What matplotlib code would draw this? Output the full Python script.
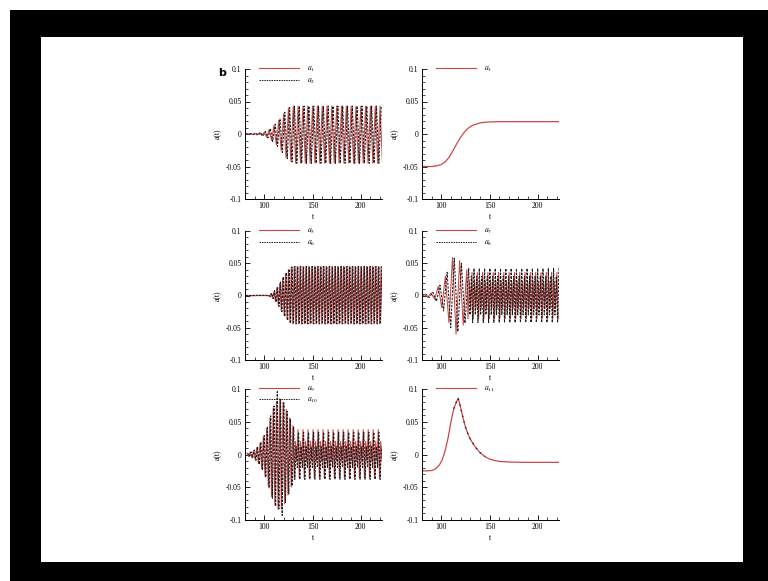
import numpy as np
import matplotlib
matplotlib.use('Agg')
import matplotlib.pyplot as plt
from matplotlib.patches import Rectangle
from matplotlib.lines import Line2D
from matplotlib.ticker import MultipleLocator

plt.rcParams['font.family'] = ['Liberation Serif', 'DejaVu Serif']
plt.rcParams['mathtext.fontset'] = 'stix'

# ---------------- data (extrema) ----------------
# panel 1 : a1 (solid), a2 (dashed); first extremum time and half period
A1_T0, A1_DT = 80.0, 2.5
a1_vals = [0.0008, -0.0008, 0.0008, -0.0008, 0.001, -0.0015, 0.002, -0.0025, 0.003, -0.005,
           0.007, -0.010, 0.013, -0.017, 0.021, -0.026, 0.031, -0.036, 0.040, -0.042,
           0.043,
           -0.045, 0.043, -0.045, 0.043, -0.045, 0.043, -0.045, 0.043, -0.045, 0.043, -0.045, 0.043,
           -0.045, 0.043, -0.045, 0.043, -0.045, 0.043, -0.045, 0.043, -0.045, 0.043, -0.045, 0.043,
           -0.045, 0.043, -0.045, 0.043, -0.045, 0.043, -0.045, 0.043, -0.045, 0.043, -0.045, 0.043,
           -0.045]
A2_T0, A2_DT = 81.25, 2.5
a2_vals = [0.0008, -0.0008, 0.0008, -0.001, 0.0012, -0.0018, 0.0022, -0.003, 0.004, -0.006,
           0.0085, -0.0115, 0.015, -0.019, 0.0235, -0.0285, 0.0335, -0.038, 0.041, -0.043,
           0.043,
           -0.045, 0.043, -0.045, 0.043, -0.045, 0.043, -0.045, 0.043, -0.045, 0.043, -0.045, 0.043,
           -0.045, 0.043, -0.045, 0.043, -0.045, 0.043, -0.045, 0.043, -0.045, 0.043, -0.045, 0.043,
           -0.045, 0.043, -0.045, 0.043, -0.045, 0.043, -0.045, 0.043, -0.045, 0.043, -0.045, 0.043]

# panel 2 : a3
a3_t = [80, 90, 95, 100, 104, 108, 112, 116, 120, 124, 128, 132, 136, 140, 145, 150, 160, 180, 200, 222]
a3_v = [-0.050, -0.050, -0.049, -0.047, -0.043, -0.036, -0.026, -0.015, -0.005, 0.003,
        0.009, 0.013, 0.015, 0.017, 0.018, 0.0185, 0.019, 0.019, 0.019, 0.019]

# panel 3 : a5, a6
A5_T0, A5_DT = 80.0, 1.5
a5_vals = [0.0005, -0.0005, 0.0005, -0.0005, 0.0005, -0.0005, 0.0005, -0.0005, 0.0005,
           -0.0005, 0.0005, -0.0005, 0.0005, -0.0005, 0.0005, -0.0005, 0.0005,
           -0.0015, 0.003, -0.0045, 0.006, -0.009, 0.012, -0.015, 0.019, -0.023, 0.027,
           -0.031, 0.034, -0.037, 0.040, -0.042, 0.044,
           -0.044, 0.045, -0.044, 0.045, -0.044, 0.045, -0.044, 0.045, -0.044, 0.045, -0.044, 0.045,
           -0.044, 0.045, -0.044, 0.045, -0.044, 0.045, -0.044, 0.045, -0.044, 0.045, -0.044, 0.045,
           -0.044, 0.045, -0.044, 0.045, -0.044, 0.045, -0.044, 0.045, -0.044, 0.045, -0.044, 0.045,
           -0.044, 0.045, -0.044, 0.045, -0.044, 0.045, -0.044, 0.045, -0.044, 0.045, -0.044, 0.045,
           -0.044, 0.045, -0.044, 0.045, -0.044, 0.045, -0.044, 0.045, -0.044, 0.045, -0.044, 0.045,
           -0.044, 0.045, -0.044]
A6_T0, A6_DT = 80.75, 1.5
a6_vals = [0.0005, -0.0005, 0.0005, -0.0005, 0.0005, -0.0005, 0.0005, -0.0005, 0.0005,
           -0.0005, 0.0005, -0.0005, 0.0005, -0.0005, 0.0005, -0.0005, 0.0005,
           -0.002, 0.0037, -0.005, 0.0075, -0.0105, 0.0135, -0.017, 0.021, -0.025, 0.029,
           -0.0325, 0.0355, -0.0385, 0.041, -0.043, 0.044,
           -0.044, 0.045, -0.044, 0.045, -0.044, 0.045, -0.044, 0.045, -0.044, 0.045, -0.044, 0.045,
           -0.044, 0.045, -0.044, 0.045, -0.044, 0.045, -0.044, 0.045, -0.044, 0.045, -0.044, 0.045,
           -0.044, 0.045, -0.044, 0.045, -0.044, 0.045, -0.044, 0.045, -0.044, 0.045, -0.044, 0.045,
           -0.044, 0.045, -0.044, 0.045, -0.044, 0.045, -0.044, 0.045, -0.044, 0.045, -0.044, 0.045,
           -0.044, 0.045, -0.044, 0.045, -0.044, 0.045, -0.044, 0.045, -0.044, 0.045, -0.044, 0.045,
           -0.044, 0.045]

# panel 4 : a7, a8 (transient extrema, then saturated regime)
a7_tr_t = [80.0, 82.0, 85.7, 89.4, 93.1, 96.8, 100.5, 104.2, 107.9, 111.6, 115.3, 119.0, 122.7, 126.4]
a7_tr_v = [0.0, 0.002, -0.003, 0.004, -0.006, 0.014, -0.019, 0.030, -0.042, 0.059, -0.060, 0.054, -0.046, 0.040]
A7_T0, A7_DT = 127.7, 1.375
a7_vals = [-0.036, 0.022, -0.020, 0.036, -0.036, 0.022, -0.020, 0.036, -0.036, 0.022, -0.020, 0.036,
           -0.036, 0.022, -0.020, 0.036, -0.036, 0.022, -0.020, 0.036, -0.036, 0.022, -0.020, 0.036,
           -0.036, 0.022, -0.020, 0.036, -0.036, 0.022, -0.020, 0.036, -0.036, 0.022, -0.020, 0.036,
           -0.036, 0.022, -0.020, 0.036, -0.036, 0.022, -0.020, 0.036, -0.036, 0.022, -0.020, 0.036,
           -0.036, 0.022, -0.020, 0.036, -0.036, 0.022, -0.020, 0.036, -0.036, 0.022, -0.020, 0.036,
           -0.036, 0.022, -0.020, 0.036, -0.036, 0.022, -0.020, 0.036, -0.036]
a8_tr_t = [80.0, 83.85, 87.55, 91.25, 94.95, 98.65, 102.35, 106.05, 109.75, 113.45, 117.15, 120.85, 124.55]
a8_tr_v = [0.0, 0.002, -0.003, 0.005, -0.009, 0.016, -0.024, 0.036, -0.050, 0.058, -0.056, 0.050, -0.043]
A8_T0, A8_DT = 128.4, 1.375
a8_vals = [0.042, -0.030, 0.030, -0.042, 0.042, -0.030, 0.030, -0.042, 0.042, -0.030, 0.030, -0.042,
           0.042, -0.030, 0.030, -0.042, 0.042, -0.030, 0.030, -0.042, 0.042, -0.030, 0.030, -0.042,
           0.042, -0.030, 0.030, -0.042, 0.042, -0.030, 0.030, -0.042, 0.042, -0.030, 0.030, -0.042,
           0.042, -0.030, 0.030, -0.042, 0.042, -0.030, 0.030, -0.042, 0.042, -0.030, 0.030, -0.042,
           0.042, -0.030, 0.030, -0.042, 0.042, -0.030, 0.030, -0.042, 0.042, -0.030, 0.030, -0.042,
           0.042, -0.030, 0.030, -0.042, 0.042, -0.030, 0.030, -0.042, 0.042]

# panel 5 : a9, a10
A9_TR_T0, A9_TR_DT = 82.0, 1.7
a9_tr_v = [0.002, -0.003, 0.004, -0.005, 0.006, -0.008, 0.011, -0.014, 0.018, -0.022,
           0.027, -0.033, 0.040, -0.048, 0.056, -0.064, 0.071, -0.077, 0.081, -0.084,
           0.085, -0.083, 0.080, -0.075, 0.069, -0.062, 0.056, -0.050, 0.044]
A9_T0, A9_DT = 131.0, 1.3
a9_vals = [-0.036, 0.020, -0.010, 0.038, -0.036, 0.020, -0.010, 0.038, -0.036, 0.020, -0.010, 0.038,
           -0.036, 0.020, -0.010, 0.038, -0.036, 0.020, -0.010, 0.038, -0.036, 0.020, -0.010, 0.038,
           -0.036, 0.020, -0.010, 0.038, -0.036, 0.020, -0.010, 0.038, -0.036, 0.020, -0.010, 0.038,
           -0.036, 0.020, -0.010, 0.038, -0.036, 0.020, -0.010, 0.038, -0.036, 0.020, -0.010, 0.038,
           -0.036, 0.020, -0.010, 0.038, -0.036, 0.020, -0.010, 0.038, -0.036, 0.020, -0.010, 0.038,
           -0.036, 0.020, -0.010, 0.038, -0.036, 0.020, -0.010, 0.038, -0.036, 0.020, -0.010]
A10_TR_T0, A10_TR_DT = 82.85, 1.7
a10_tr_v = [0.002, -0.003, 0.004, -0.005, 0.007, -0.009, 0.012, -0.015, 0.019, -0.024,
            0.029, -0.035, 0.043, -0.051, 0.059, -0.067, 0.074, -0.079, 0.096, -0.083,
            0.084, -0.093, 0.079, -0.073, 0.066, -0.060, 0.054, -0.048, 0.042]
A10_T0, A10_DT = 131.65, 1.3
a10_vals = [-0.038, 0.012, -0.020, 0.034, -0.038, 0.012, -0.020, 0.034, -0.038, 0.012, -0.020, 0.034,
            -0.038, 0.012, -0.020, 0.034, -0.038, 0.012, -0.020, 0.034, -0.038, 0.012, -0.020, 0.034,
            -0.038, 0.012, -0.020, 0.034, -0.038, 0.012, -0.020, 0.034, -0.038, 0.012, -0.020, 0.034,
            -0.038, 0.012, -0.020, 0.034, -0.038, 0.012, -0.020, 0.034, -0.038, 0.012, -0.020, 0.034,
            -0.038, 0.012, -0.020, 0.034, -0.038, 0.012, -0.020, 0.034, -0.038, 0.012, -0.020, 0.034,
            -0.038, 0.012, -0.020, 0.034, -0.038, 0.012, -0.020, 0.034, -0.038, 0.012]

# panel 6 : a11
a11_t = [80, 85, 90, 94, 98, 101, 104, 107, 110, 113, 115, 117.5, 120, 122.5, 125, 128, 131,
         135, 140, 145, 150, 155, 160, 170, 185, 200, 222]
a11_v = [-0.025, -0.025, -0.0245, -0.022, -0.016, -0.008, 0.006, 0.025, 0.050, 0.070, 0.078,
         0.086, 0.072, 0.056, 0.042, 0.030, 0.021, 0.012, 0.003, -0.003, -0.007, -0.009,
         -0.0105, -0.0115, -0.012, -0.012, -0.012]

Y_TICKS = [-0.1, -0.05, 0, 0.05, 0.1]
Y_TICKLABELS = ['-0.1', '-0.05', '0', '0.05', '0.1']
X_TICKS = [100, 150, 200]


def series(t0, dt, vals):
    return t0 + dt * np.arange(len(vals)), np.asarray(vals)


# ---------------- figure ----------------
W, H = 768, 581
fig = plt.figure(figsize=(W / 100, H / 100), dpi=100)
fig.patch.set_facecolor('white')
fig.add_artist(Rectangle((10 / W, 0), 1 - 10 / W, 1 - 10 / H, transform=fig.transFigure,
                         facecolor='black', edgecolor='none', zorder=-10))
fig.add_artist(Rectangle((41 / W, 1 - 562 / H), (743 - 41) / W, (562 - 37) / H,
                         transform=fig.transFigure, facecolor='white', edgecolor='none', zorder=-9))

RED = '#c84848'
DARK = '#1a1a1a'
LW = 0.75
DASH = (0, (2.2, 1.3))

cols = [245 / W, 422 / W]
width = 137 / W
rows = [(1 - 199 / H, 130 / H), (1 - 360 / H, 129 / H), (1 - 520 / H, 131 / H)]


def make_ax(r, c):
    b, h = rows[r]
    ax = fig.add_axes([cols[c], b, width, h])
    ax.patch.set_alpha(0)
    ax.set_xlim(80, 222)
    ax.set_ylim(-0.1, 0.1)
    ax.set_xticks(X_TICKS)
    ax.set_yticks(Y_TICKS)
    ax.set_yticklabels(Y_TICKLABELS)
    ax.xaxis.set_minor_locator(MultipleLocator(10))
    ax.yaxis.set_minor_locator(MultipleLocator(0.01))
    for s in ('top', 'right'):
        ax.spines[s].set_visible(False)
    for s in ('left', 'bottom'):
        ax.spines[s].set_linewidth(0.7)
    ax.tick_params(which='major', direction='in', length=3.5, width=0.6, labelsize=5.5, pad=2.5)
    ax.tick_params(which='minor', direction='in', length=2, width=0.5)
    ax.set_ylabel('a(t)', fontsize=5.5, labelpad=3)
    ax.set_xlabel('t', fontsize=5.5, labelpad=1.5)
    return ax


def add_legend(ax, entries):
    handles = []
    labels = []
    for lab, style in entries:
        if style == 'solid':
            handles.append(Line2D([], [], color=RED, lw=0.8))
        else:
            handles.append(Line2D([], [], color=DARK, lw=0.7, linestyle=(0, (1.5, 1.0))))
        labels.append(lab)
    ax.legend(handles, labels, loc='upper left', bbox_to_anchor=(0.1, 1.035), frameon=False,
              fontsize=5.5, handlelength=5.3, handletextpad=1.0, labelspacing=0.35,
              borderaxespad=0, borderpad=0)


# panel 1
ax = make_ax(0, 0)
t, v = series(A1_T0, A1_DT, a1_vals)
ax.plot(t, v, color=RED, lw=LW)
t, v = series(A2_T0, A2_DT, a2_vals)
ax.plot(t, v, color=DARK, lw=LW, linestyle=DASH)
add_legend(ax, [('$a_1$', 'solid'), ('$a_2$', 'dash')])
fig.text(222 / W, 1 - 73 / H, 'b', fontsize=8, fontweight='bold', family='DejaVu Sans',
         ha='center', va='center')

# panel 2
ax = make_ax(0, 1)
ax.plot(a3_t, a3_v, color=RED, lw=0.9)
add_legend(ax, [('$a_3$', 'solid')])

# panel 3
ax = make_ax(1, 0)
t, v = series(A5_T0, A5_DT, a5_vals)
ax.plot(t, v, color=RED, lw=LW)
t, v = series(A6_T0, A6_DT, a6_vals)
ax.plot(t, v, color=DARK, lw=LW, linestyle=DASH)
add_legend(ax, [('$a_5$', 'solid'), ('$a_6$', 'dash')])

# panel 4
ax = make_ax(1, 1)
ts, vs = series(A7_T0, A7_DT, a7_vals)
ax.plot(np.concatenate([a7_tr_t, ts]), np.concatenate([a7_tr_v, vs]), color=RED, lw=LW)
ts, vs = series(A8_T0, A8_DT, a8_vals)
ax.plot(np.concatenate([a8_tr_t, ts]), np.concatenate([a8_tr_v, vs]), color=DARK, lw=LW, linestyle=DASH)
add_legend(ax, [('$a_7$', 'solid'), ('$a_8$', 'dash')])

# panel 5
ax = make_ax(2, 0)
t1, v1 = series(A9_TR_T0, A9_TR_DT, a9_tr_v)
t2, v2 = series(A9_T0, A9_DT, a9_vals)
ax.plot(np.concatenate([t1, t2]), np.concatenate([v1, v2]), color=RED, lw=LW)
t1, v1 = series(A10_TR_T0, A10_TR_DT, a10_tr_v)
t2, v2 = series(A10_T0, A10_DT, a10_vals)
ax.plot(np.concatenate([t1, t2]), np.concatenate([v1, v2]), color=DARK, lw=LW, linestyle=DASH)
add_legend(ax, [('$a_9$', 'solid'), ('$a_{10}$', 'dash')])

# panel 6
ax = make_ax(2, 1)
ax.plot(a11_t, a11_v, color=RED, lw=0.9)
mt = np.asarray(a11_t, dtype=float)
mask = (mt >= 113) & (mt <= 145)
ax.plot(mt[mask], np.asarray(a11_v)[mask], color=DARK, lw=0.9, linestyle=(0, (1.2, 3.5)))
add_legend(ax, [('$a_{11}$', 'solid')])

fig.savefig('out.png', dpi=100)
